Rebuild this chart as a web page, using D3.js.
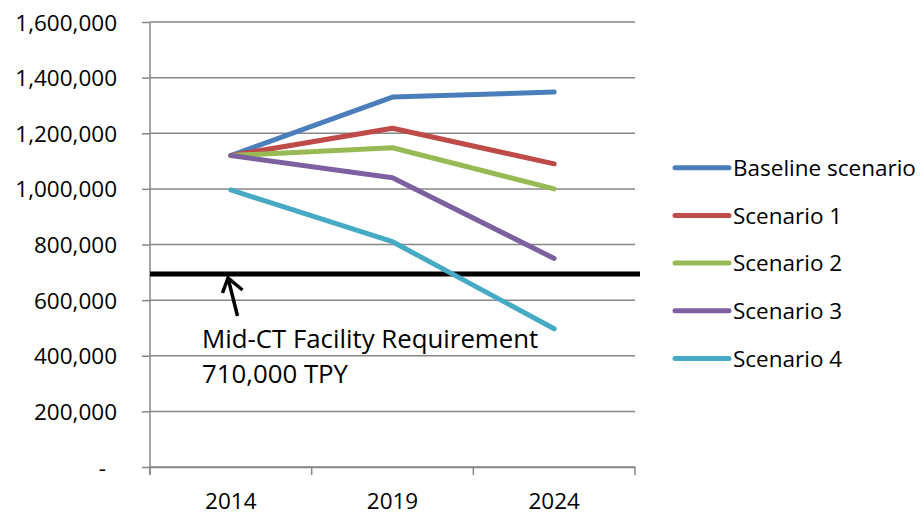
<!DOCTYPE html>
<html>
<head>
<meta charset="utf-8">
<script src="https://cdn.jsdelivr.net/npm/d3@7"></script>
<style>
  html, body { margin: 0; padding: 0; background: #fff; }
  svg text { font-family: "Open Sans", "Noto Sans", sans-serif; fill: #000; }
</style>
</head>
<body>
<svg id="chart" width="924" height="515"></svg>
<script>
const categories = ["2014", "2019", "2024"];
const seriesNames = ["Baseline scenario", "Scenario 1", "Scenario 2", "Scenario 3", "Scenario 4"];
const baseline  = [1120000, 1330000, 1348000];
const scenario1 = [1120000, 1218000, 1090000];
const scenario2 = [1120000, 1148000, 1000000];
const scenario3 = [1120000, 1040000, 750000];
const scenario4 = [996000, 810000, 497000];
const seriesColors = ["#4A7EBB", "#BE4B48", "#98B954", "#7D60A0", "#46AAC5"];
const yTicks = [0, 200000, 400000, 600000, 800000, 1000000, 1200000, 1400000, 1600000];
const requirementValue = 694000;
const annotationLines = ["Mid-CT Facility Requirement", "710,000 TPY"];

const seriesValues = [baseline, scenario1, scenario2, scenario3, scenario4];

const svg = d3.select("#chart");
const plot = { left: 150, right: 635, top: 22, bottom: 467 };

const x = d3.scaleBand().domain(categories).range([plot.left, plot.right]).padding(0);
const y = d3.scaleLinear().domain([0, 1600000]).range([plot.bottom, plot.top]);

const gridColor = "#878787";

// horizontal gridlines
svg.append("g").selectAll("line").data(yTicks).join("line")
  .attr("x1", plot.left).attr("x2", plot.right)
  .attr("y1", d => y(d)).attr("y2", d => y(d))
  .attr("stroke", gridColor).attr("stroke-width", 1.5);

// y axis
const yAxis = d3.axisLeft(y).tickValues(yTicks).tickSize(8).tickPadding(25)
  .tickFormat(d => d === 0 ? "-" : d3.format(",")(d));
const yg = svg.append("g").attr("transform", `translate(${plot.left},0)`).call(yAxis);
yg.select(".domain").remove();
yg.selectAll(".tick line").attr("stroke", gridColor).attr("stroke-width", 1.5);
yg.selectAll(".tick text")
  .attr("font-size", "22.5px")
  .attr("font-family", "'Open Sans', sans-serif")
  .attr("fill", "#000")
  .attr("dy", "0.36em")
  .attr("dx", d => d === 0 ? -11 : 0);

// vertical axis line
svg.append("line")
  .attr("x1", plot.left).attr("x2", plot.left)
  .attr("y1", plot.top).attr("y2", plot.bottom + 8)
  .attr("stroke", gridColor).attr("stroke-width", 1.5);

// x axis
const xAxis = d3.axisBottom(x).tickSize(0).tickPadding(26);
const xg = svg.append("g").attr("transform", `translate(0,${plot.bottom})`).call(xAxis);
xg.select(".domain").attr("stroke", gridColor).attr("stroke-width", 1.5);
xg.selectAll(".tick text")
  .attr("font-size", "22.5px")
  .attr("font-family", "'Open Sans', sans-serif")
  .attr("fill", "#000");
// category boundary ticks
const boundaries = categories.map(c => x(c)).concat([x(categories[categories.length - 1]) + x.bandwidth()]);
svg.append("g").selectAll("line").data(boundaries).join("line")
  .attr("x1", d => d).attr("x2", d => d)
  .attr("y1", plot.bottom).attr("y2", plot.bottom + 8)
  .attr("stroke", gridColor).attr("stroke-width", 1.5);

// requirement line
svg.append("line")
  .attr("x1", plot.left).attr("x2", plot.right + 5)
  .attr("y1", y(requirementValue)).attr("y2", y(requirementValue))
  .attr("stroke", "#000").attr("stroke-width", 5);

// series lines
const line = d3.line()
  .x((d, i) => x(categories[i]) + x.bandwidth() / 2)
  .y(d => y(d));
svg.append("g").selectAll("path").data(seriesValues).join("path")
  .attr("d", d => line(d))
  .attr("fill", "none")
  .attr("stroke", (d, i) => seriesColors[i])
  .attr("stroke-width", 5)
  .attr("stroke-linecap", "round")
  .attr("stroke-linejoin", "round");

// annotation arrow
const arrowG = svg.append("g").attr("stroke", "#000").attr("stroke-width", 3.5)
  .attr("fill", "none").attr("stroke-linecap", "butt");
const tip = [228, y(requirementValue) + 4];
const tail = [237.5, 316];
arrowG.append("line").attr("x1", tail[0]).attr("y1", tail[1]).attr("x2", tip[0]).attr("y2", tip[1]);
arrowG.append("path").attr("d", `M222.5,293 L${tip[0]},${tip[1]} L242.5,290`)
  .attr("stroke-linejoin", "miter");

// annotation text
svg.append("g").selectAll("text").data(annotationLines).join("text")
  .attr("x", 202)
  .attr("y", (d, i) => 348 + i * 35)
  .attr("font-size", "25.8px")
  .text(d => d);

// legend
const legend = svg.append("g");
const legendRows = legend.selectAll("g").data(seriesNames).join("g")
  .attr("transform", (d, i) => `translate(0,${167.7 + i * 47.7})`);
legendRows.append("line")
  .attr("x1", 675).attr("x2", 729).attr("y1", 0).attr("y2", 0)
  .attr("stroke", (d, i) => seriesColors[i])
  .attr("stroke-width", 5)
  .attr("stroke-linecap", "round");
legendRows.append("text")
  .attr("x", 733).attr("y", 0).attr("dy", "0.36em")
  .attr("font-size", "22.5px")
  .text(d => d);
</script>
</body>
</html>
